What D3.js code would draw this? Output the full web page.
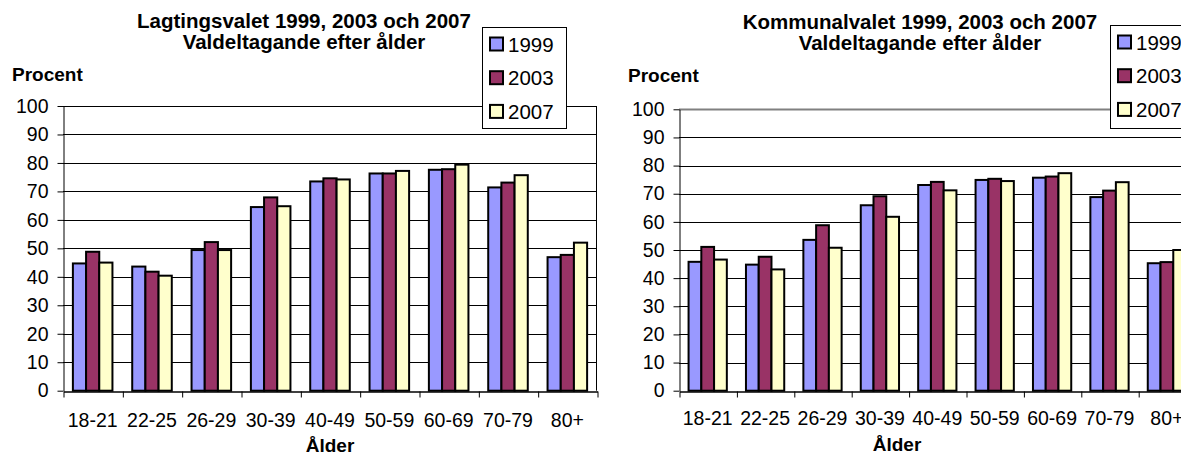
<!DOCTYPE html>
<html>
<head>
<meta charset="utf-8">
<script src="https://cdn.jsdelivr.net/npm/d3@7"></script>
<style>
  html, body { margin: 0; padding: 0; background: #fff; overflow: hidden; }
  svg { display: block; font-family: Arial, "Liberation Sans", sans-serif; }
</style>
</head>
<body>
<svg id="chart" width="1181" height="455"></svg>
<script>
// Valdeltagande efter ålder – two grouped bar charts side by side.

const ageGroups = ['18-21', '22-25', '26-29', '30-39', '40-49', '50-59', '60-69', '70-79', '80+'];
const years = ['1999', '2003', '2007'];
const yTicks = [0, 10, 20, 30, 40, 50, 60, 70, 80, 90, 100];

// Lagtingsvalet, percent per age group
const lagting1999 = [44.7, 43.6, 49.4, 64.5, 73.5, 76.3, 77.6, 71.4, 46.9];
const lagting2003 = [48.8, 41.8, 52.2, 67.9, 74.6, 76.3, 77.8, 73.1, 47.7];
const lagting2007 = [45.0, 40.4, 49.4, 64.8, 74.2, 77.2, 79.4, 75.7, 52.0];

// Kommunalvalet, percent per age group
const kommun1999 = [45.8, 44.8, 53.6, 65.9, 73.1, 74.9, 75.7, 68.8, 45.3];
const kommun2003 = [51.1, 47.6, 58.8, 69.1, 74.2, 75.3, 76.1, 71.1, 45.7];
const kommun2007 = [46.6, 43.1, 50.8, 61.8, 71.2, 74.5, 77.3, 74.1, 50.0];

const colors = { '1999': '#9999ff', '2003': '#993366', '2007': '#ffffcc' };

const svg = d3.select('#chart');

function drawChart(cfg) {
  const g = svg.append('g');
  const series = years.map((yr, i) => ({ year: yr, values: cfg.series[i] }));

  const x = d3.scaleBand().domain(ageGroups).range([cfg.x0, cfg.x1]);
  const groupW = x.bandwidth() * 2 / 3;
  const xs = d3.scaleBand().domain(years).range([0, groupW]);
  const y = d3.scaleLinear().domain([0, 100]).range([cfg.yBot, cfg.yTop]);

  // plot area
  g.append('rect')
    .attr('x', cfg.x0).attr('y', cfg.yTop)
    .attr('width', cfg.x1 - cfg.x0).attr('height', cfg.yBot - cfg.yTop)
    .attr('fill', '#fff');

  // gridlines
  g.append('g').selectAll('line').data(yTicks.filter(t => t > 0 && t < 100)).join('line')
    .attr('x1', cfg.x0).attr('x2', cfg.x1)
    .attr('y1', d => Math.round(y(d)) + 0.5).attr('y2', d => Math.round(y(d)) + 0.5)
    .attr('stroke', '#000').attr('stroke-width', 1);

  // plot border (top / right)
  g.append('line')
    .attr('x1', cfg.x0).attr('x2', cfg.x1)
    .attr('y1', Math.round(y(100)) + 0.5).attr('y2', Math.round(y(100)) + 0.5)
    .attr('stroke', cfg.borderColor).attr('stroke-width', cfg.borderWidth);
  g.append('line')
    .attr('x1', cfg.x1 - 0.5).attr('x2', cfg.x1 - 0.5)
    .attr('y1', y(100)).attr('y2', cfg.yBot)
    .attr('stroke', cfg.borderColor).attr('stroke-width', cfg.borderWidth);

  // bars
  const groups = g.append('g').selectAll('g').data(ageGroups).join('g')
    .attr('transform', d => `translate(${x(d) + (x.bandwidth() - groupW) / 2},0)`);
  groups.selectAll('rect')
    .data((d, i) => series.map(s => ({ year: s.year, value: s.values[i] })))
    .join('rect')
    .attr('x', d => xs(d.year))
    .attr('y', d => y(d.value))
    .attr('width', xs.bandwidth())
    .attr('height', d => y(0) - y(d.value))
    .attr('fill', d => colors[d.year])
    .attr('stroke', '#000').attr('stroke-width', 2);

  // y axis
  const yAxis = g.append('g')
    .attr('transform', `translate(${cfg.x0 + 0.5},0)`)
    .call(d3.axisLeft(y).tickValues(yTicks).tickSize(6).tickPadding(9).tickSizeOuter(0));
  yAxis.select('.domain').attr('stroke', '#000');
  yAxis.selectAll('.tick line').attr('stroke', '#000');
  yAxis.selectAll('text').attr('font-size', 19.5).attr('fill', '#000')
    .attr('font-family', 'Arial, "Liberation Sans", sans-serif');

  // x axis: ticks at band boundaries, labels under band centres
  const xb = d3.scaleLinear().domain([0, ageGroups.length]).range([cfg.x0, cfg.x1]);
  const xAxis = g.append('g')
    .attr('transform', `translate(0.5,${Math.round(cfg.yBot) + 0.5})`)
    .call(d3.axisBottom(xb).ticks(ageGroups.length).tickFormat('').tickSize(6).tickSizeOuter(0));
  xAxis.select('.domain').attr('stroke', '#000').attr('stroke-width', 1.5);
  xAxis.selectAll('.tick line').attr('stroke', '#000');

  g.append('g').selectAll('text').data(ageGroups).join('text')
    .attr('x', d => x(d) + x.bandwidth() / 2)
    .attr('y', cfg.catY)
    .attr('text-anchor', 'middle').attr('font-size', 19.5)
    .text(d => d);

  // titles
  const title = g.append('text').attr('text-anchor', 'middle')
    .attr('font-size', 20.5).attr('font-weight', 'bold');
  title.append('tspan').attr('x', cfg.titleX).attr('y', cfg.title1Y).text(cfg.title);
  title.append('tspan').attr('x', cfg.titleX).attr('y', cfg.title2Y).text('Valdeltagande efter ålder');

  g.append('text').attr('x', cfg.procentX).attr('y', cfg.procentY)
    .attr('font-size', 19).attr('font-weight', 'bold').text('Procent');
  g.append('text').attr('x', cfg.alderX).attr('y', cfg.alderY)
    .attr('text-anchor', 'middle').attr('font-size', 19).attr('font-weight', 'bold').text('Ålder');

  // legend
  const L = cfg.legend;
  const lg = g.append('g').attr('transform', `translate(${L.x},${L.y})`);
  lg.append('rect').attr('x', 0.5).attr('y', 0.5).attr('width', L.w).attr('height', L.h)
    .attr('fill', '#fff').attr('stroke', '#000');
  const item = lg.selectAll('g').data(years).join('g')
    .attr('transform', (d, i) => `translate(0,${17 + i * 33.7})`);
  item.append('rect').attr('x', 8).attr('y', -6.5).attr('width', 13).attr('height', 13)
    .attr('fill', d => colors[d]).attr('stroke', '#000').attr('stroke-width', 2);
  item.append('text').attr('x', 26).attr('y', 7.5).attr('font-size', 20.5).text(d => d);
}

drawChart({
  series: [lagting1999, lagting2003, lagting2007],
  title: 'Lagtingsvalet 1999, 2003 och 2007',
  x0: 63, x1: 597, yTop: 106, yBot: 390.7,
  borderColor: '#000', borderWidth: 1,
  titleX: 304, title1Y: 28, title2Y: 49,
  procentX: 12, procentY: 81,
  catY: 427, alderX: 330, alderY: 452,
  legend: { x: 482, y: 27, w: 84, h: 101 }
});

drawChart({
  series: [kommun1999, kommun2003, kommun2007],
  title: 'Kommunalvalet 1999, 2003 och 2007',
  x0: 679, x1: 679 + 9 * 57.4, yTop: 109.3, yBot: 390.7,
  borderColor: '#808080', borderWidth: 2,
  titleX: 920, title1Y: 29, title2Y: 50,
  procentX: 628, procentY: 82,
  catY: 425, alderX: 897, alderY: 451,
  legend: { x: 1110, y: 25, w: 100, h: 103 }
});
</script>
</body>
</html>
